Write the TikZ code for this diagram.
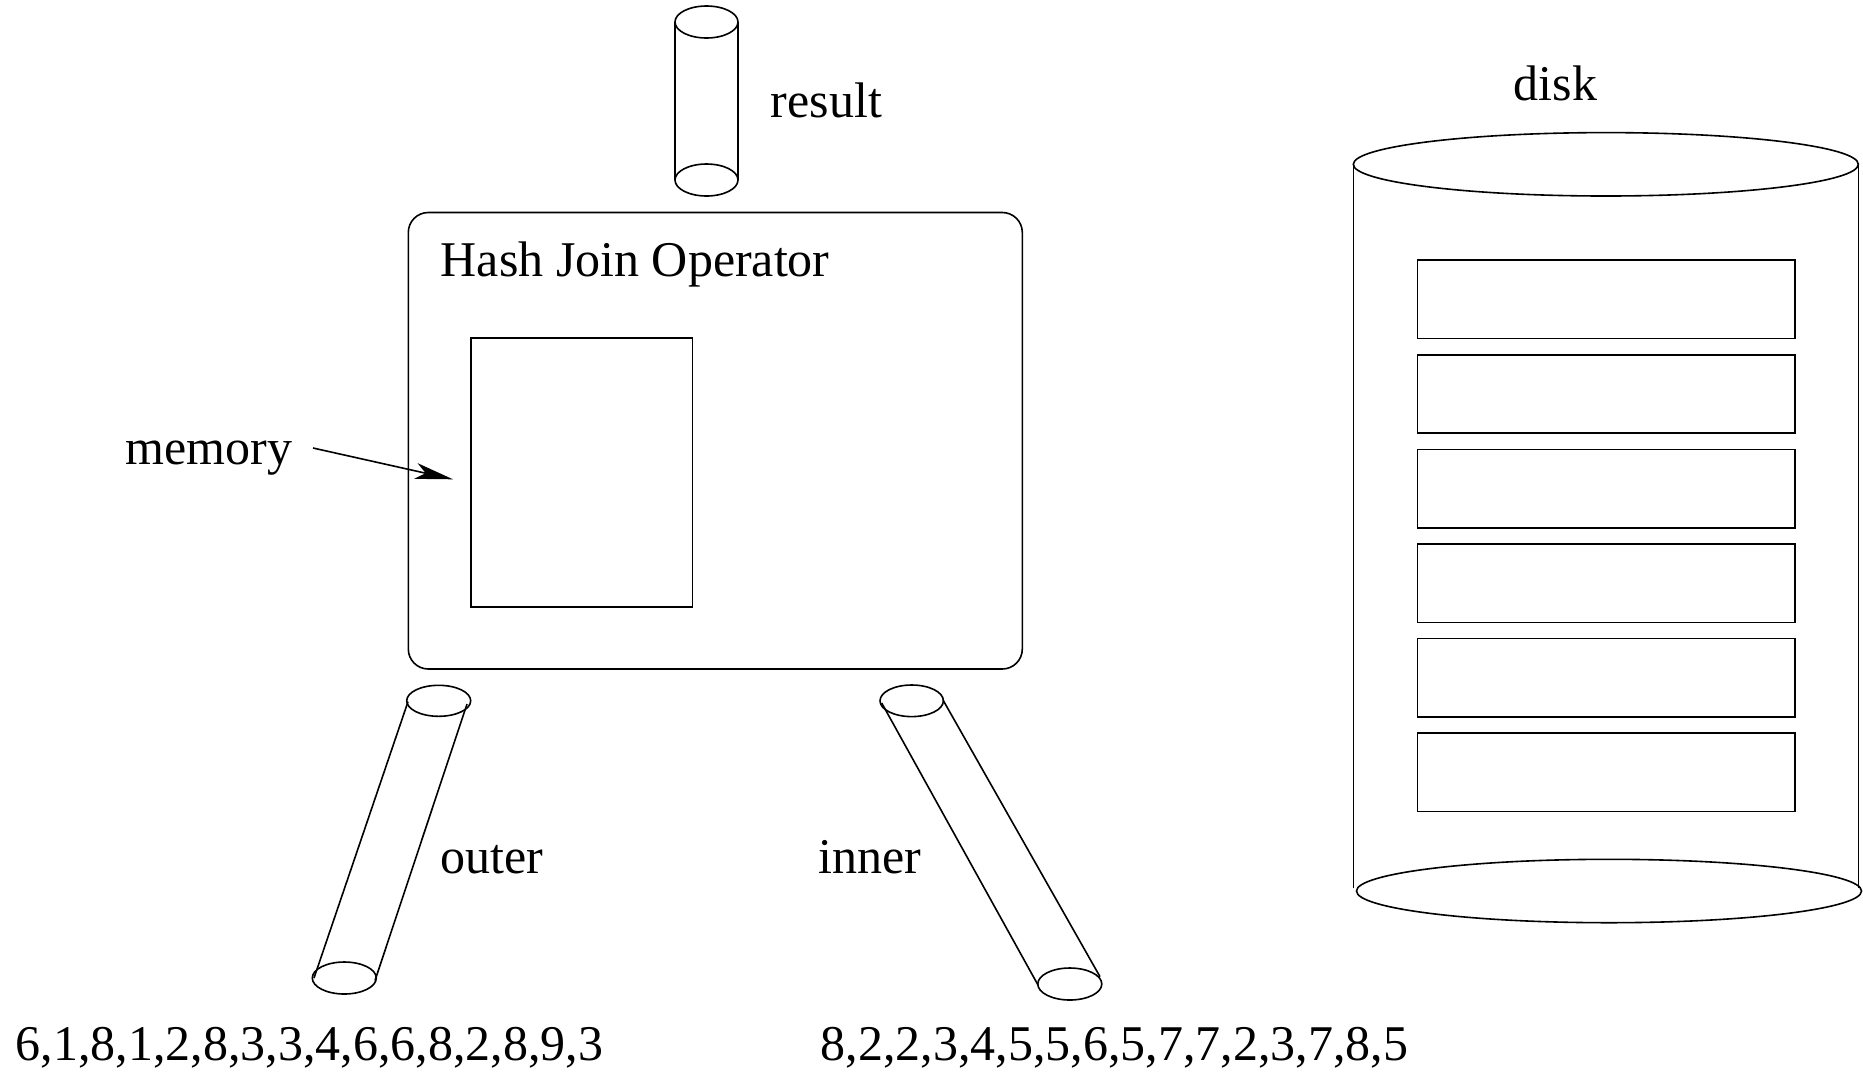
\documentclass[tikz,border=0pt]{standalone}
\usepackage{fontspec}
\setmainfont{Liberation Serif}
\usetikzlibrary{arrows.meta}
\begin{document}
\begin{tikzpicture}[x=1pt,y=-1pt,line width=1.6pt,
  lbl/.style={anchor=base west,inner sep=0pt,font=\fontsize{50}{60}\selectfont},
  box/.style={draw,anchor=north west,inner sep=0pt},
  diskrec/.style={box,minimum width=377.6pt,minimum height=78.4pt},
  memarrow/.style={-{Stealth[length=38pt,width=16pt,inset=10pt]}}]
\useasboundingbox (0,0) rectangle (1863,1072);
% result cylinder
\draw (706.5,22) ellipse [x radius=31.5pt,y radius=16pt];
\draw (706.5,180) ellipse [x radius=31.5pt,y radius=16pt];
\draw (675,22) -- (675,180) (738,22) -- (738,180);
\node[lbl] (result) at (770,117) {result};
% hash join operator
\node[box,rounded corners=20pt,minimum width=614pt,minimum height=456.5pt] (hj) at (407.5,211.7) {};
\node[lbl] (hjl) at (440,276) {Hash Join Operator};
\node[box,minimum width=221.7pt,minimum height=268.7pt] (mem) at (470,337.3) {};
\node[lbl] (meml) at (125,464) {memory};
\coordinate (ms) at (313,448);
\coordinate (mt) at (453,479.3);
\draw[memarrow] (ms) -- (mt);
% outer cylinder
\draw (438.7,700.8) ellipse [x radius=32pt,y radius=15.5pt];
\draw (344.3,978) ellipse [x radius=32pt,y radius=16pt];
\draw (408,701.7) -- (314,978) (467,704) -- (375,980.5);
\node[lbl] (outer) at (439.6,873) {outer};
% inner cylinder
\draw (911.7,700.8) ellipse [x radius=31.7pt,y radius=15.8pt];
\draw (1069.8,984) ellipse [x radius=32pt,y radius=16pt];
\draw (881.7,703) -- (1038,985) (943,700) -- (1100,976.7);
\node[lbl] (inner) at (817.5,873) {inner};
% sequences
\node[lbl] (seqo) at (15,1060) {6,1,8,1,2,8,3,3,4,6,6,8,2,8,9,3};
\node[lbl] (seqi) at (820,1060) {8,2,2,3,4,5,5,6,5,7,7,2,3,7,8,5};
% disk
\draw (1605.8,164.3) ellipse [x radius=252.5pt,y radius=31.7pt];
\draw (1609,891) ellipse [x radius=252.5pt,y radius=31.7pt];
\draw (1353.3,164.3) -- (1353.3,888) (1858.3,164.3) -- (1858.3,888);
\node[lbl] (diskl) at (1513,100) {disk};
\foreach \k in {0,...,5} {
  \node[diskrec] (d\k) at (1416.7,259.3+94.6*\k) {};
}
\end{tikzpicture}
\end{document}
